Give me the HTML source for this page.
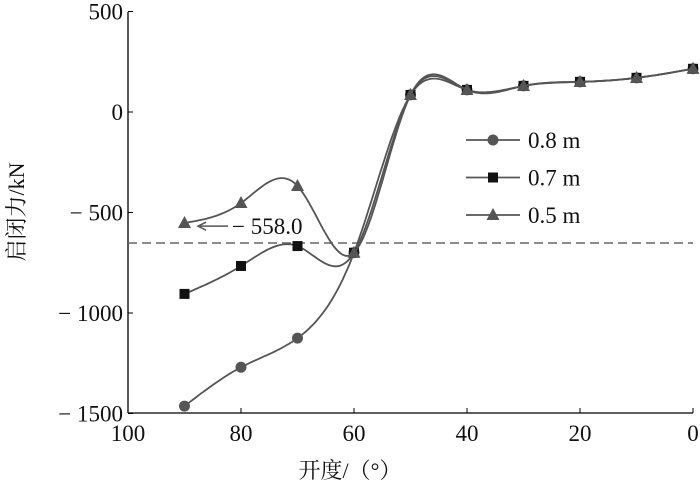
<!DOCTYPE html>
<html><head><meta charset="utf-8"><style>
html,body{margin:0;padding:0;background:#fff;}
svg text{font-family:"Liberation Serif","Noto Serif CJK SC",serif;fill:#111;}
</style></head><body>
<svg id="chart" width="700" height="487" viewBox="0 0 700 487" xmlns="http://www.w3.org/2000/svg">
<g id="axes"></g>
<g id="series"></g>
<g id="legend"></g>
</svg>
<script>
const xTicks=[100,80,60,40,20,0];
const yTicks=[500,0,-500,-1000,-1500];
const xVals=[90,80,70,60,50,40,30,20,10,0];
const s08=[-1463,-1270,-1125,-700,85,110,130,150,170,215];
const s07=[-905,-766,-667,-700,85,110,130,150,170,215];
const s05=[-552,-453,-368,-700,85,110,130,150,170,215];
const seriesNames=["0.8 m","0.7 m","0.5 m"];
const refValue=-652;
const annotValue=-558.0;

const NS="http://www.w3.org/2000/svg";
const X=v=>128+(100-v)*5.65;
const Y=v=>112-v*0.201;
function mk(tag,attrs,parent,txt){const e=document.createElementNS(NS,tag);for(const k in attrs)e.setAttribute(k,attrs[k]);if(txt!==undefined)e.textContent=txt;parent.appendChild(e);return e;}
const axes=document.getElementById('axes'),ser=document.getElementById('series'),leg=document.getElementById('legend');

let a=mk('line',{x1:128,y1:12,x2:128,y2:413,stroke:'#000','stroke-width':1.3},axes);

a=mk('line',{x1:128,y1:413,x2:693,y2:413,stroke:'#000','stroke-width':1.3},axes);

xTicks.forEach(t=>{const l=mk('line',{x1:X(t),y1:413,x2:X(t),y2:408,stroke:'#000'},axes);

const tx=mk('text',{x:X(t),y:441,'text-anchor':'middle','font-size':23},axes,String(t));
});
yTicks.forEach(t=>{const l=mk('line',{x1:128,y1:Y(t),x2:133,y2:Y(t),stroke:'#000'},axes);

const tx=mk('text',{x:123,y:Y(t)+8,'text-anchor':'end','font-size':23},axes,(t<0?'\u2212 ':'')+Math.abs(t));
});
let t=mk('text',{x:350,y:478,'text-anchor':'middle','font-size':22},axes,'开度/（°）');

t=mk('text',{x:0,y:0,'text-anchor':'middle','font-size':22,transform:'translate(24,212) rotate(-90)'},axes,'启闭力/kN');

t=mk('line',{x1:128,y1:Y(refValue),x2:693,y2:Y(refValue),stroke:'#666','stroke-width':1.5,'stroke-dasharray':'9,5'},axes);


function spline(xs,ys){const n=xs.length,h=[],al=[],l=[1],mu=[0],z=[0],c=new Array(n).fill(0),b=[],d=[];
for(let i=0;i<n-1;i++)h[i]=xs[i+1]-xs[i];
for(let i=1;i<n-1;i++)al[i]=3/h[i]*(ys[i+1]-ys[i])-3/h[i-1]*(ys[i]-ys[i-1]);
for(let i=1;i<n-1;i++){l[i]=2*(xs[i+1]-xs[i-1])-h[i-1]*mu[i-1];mu[i]=h[i]/l[i];z[i]=(al[i]-h[i-1]*z[i-1])/l[i];}
l[n-1]=1;z[n-1]=0;
for(let j=n-2;j>=0;j--){c[j]=z[j]-mu[j]*c[j+1];b[j]=(ys[j+1]-ys[j])/h[j]-h[j]*(c[j+1]+2*c[j])/3;d[j]=(c[j+1]-c[j])/(3*h[j]);}
const pts=[];for(let j=0;j<n-1;j++){for(let k=0;k<20;k++){const dx=h[j]*k/20;pts.push([xs[j]+dx,ys[j]+b[j]*dx+c[j]*dx*dx+d[j]*dx*dx*dx]);}}
pts.push([xs[n-1],ys[n-1]]);return pts;}
const xsAsc=xVals.map(v=>-v);
function marker(type,cx,cy,parent,name){let m;
if(type===0)m=mk('circle',{cx,cy,r:5.5,fill:'#555'},parent);
else if(type===1)m=mk('rect',{x:cx-5,y:cy-5,width:10,height:10,fill:'#111'},parent);
else m=mk('polygon',{points:`${cx},${cy-7} ${cx-6.5},${cy+5} ${cx+6.5},${cy+5}`,fill:'#555'},parent);
}
[s08,s07,s05].forEach((s,i)=>{
const pts=spline(xsAsc,s);
const p=mk('path',{d:'M'+pts.map(q=>X(-q[0]).toFixed(1)+','+Y(q[1]).toFixed(1)).join('L'),fill:'none',stroke:'#555','stroke-width':1.8},ser);

xVals.forEach((xv,j)=>marker(i,X(xv),Y(s[j]),ser,'point-'+i));
const ly=140+i*37.5;
const ll=mk('line',{x1:466,y1:ly,x2:520,y2:ly,stroke:'#555','stroke-width':1.8},leg);

marker(i,493,ly,leg,'legend-marker');
const lt=mk('text',{x:528,y:ly+8,'font-size':23},leg,seriesNames[i]);
});
const ar=mk('path',{d:`M228,${Y(annotValue)+2} L200,${Y(annotValue)+2} M206,${Y(annotValue)-2} L198,${Y(annotValue)+2} L206,${Y(annotValue)+6}`,stroke:'#555','stroke-width':1.5,fill:'none'},ser);

const at=mk('text',{x:232,y:Y(annotValue)+10,'font-size':23},ser,'\u2212 '+annotValue.toFixed(1).replace('-',''));

</script>
</body></html>
